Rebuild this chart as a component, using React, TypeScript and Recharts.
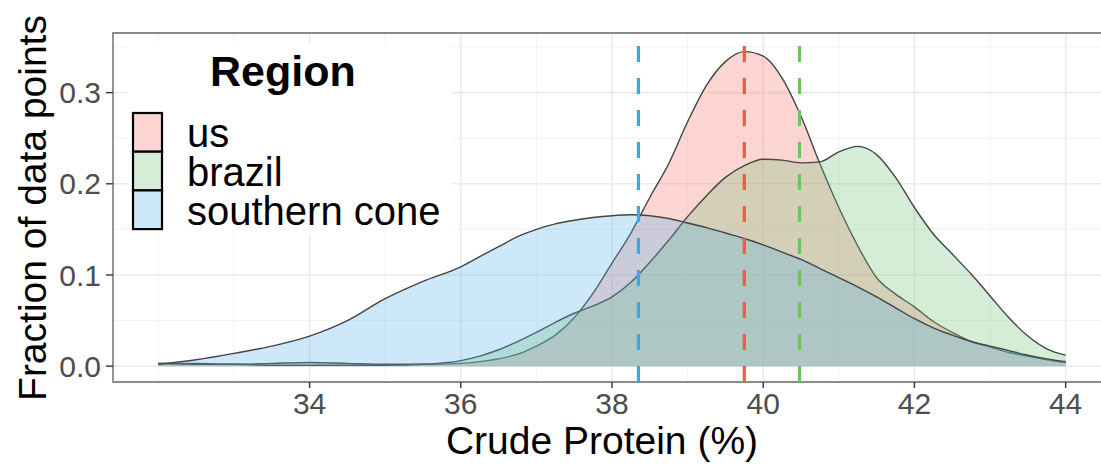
import React from 'react';
import {
  AreaChart,
  Area,
  XAxis,
  YAxis,
  CartesianGrid,
  ReferenceLine,
  ReferenceArea,
  Label,
} from 'recharts';

// ---- data ----
const proteinValues = [
  32, 32.5, 33, 33.5, 34, 34.5, 35, 35.5, 36,
  36.25, 36.5, 36.75, 37, 37.25, 37.5, 37.75, 38,
  38.25, 38.5, 38.75, 39, 39.25, 39.5, 39.75, 40,
  40.25, 40.5, 40.75, 41, 41.25, 41.5, 41.75, 42,
  42.25, 42.5, 42.75, 43, 43.25, 43.5, 43.75, 44,
];

const usDensity = [
  0.003, 0.003, 0.002, 0.003, 0.004, 0.003, 0.002, 0.002, 0.003,
  0.005, 0.008, 0.013, 0.022, 0.034, 0.053, 0.08, 0.113,
  0.146, 0.185, 0.222, 0.268, 0.308, 0.334, 0.345, 0.34,
  0.316, 0.274, 0.222, 0.174, 0.132, 0.097, 0.079, 0.065,
  0.049, 0.037, 0.027, 0.021, 0.015, 0.011, 0.007, 0.004,
];

const brazilDensity = [
  0.003, 0.002, 0.002, 0.001, 0.001, 0.001, 0.001, 0.002, 0.006,
  0.011, 0.018, 0.027, 0.037, 0.048, 0.058, 0.066, 0.076,
  0.092, 0.114, 0.138, 0.164, 0.187, 0.207, 0.22, 0.227,
  0.226, 0.223, 0.224, 0.235, 0.241, 0.232, 0.207, 0.174,
  0.145, 0.123, 0.101, 0.077, 0.053, 0.033, 0.019, 0.012,
];

const southernConeDensity = [
  0.002, 0.007, 0.014, 0.022, 0.033, 0.05, 0.074, 0.093, 0.109,
  0.12, 0.131, 0.142, 0.15, 0.156, 0.16, 0.163, 0.165,
  0.166, 0.165, 0.162, 0.157, 0.152, 0.146, 0.14, 0.133,
  0.125, 0.117, 0.107, 0.097, 0.087, 0.076, 0.064, 0.052,
  0.042, 0.034, 0.027, 0.022, 0.017, 0.012, 0.008, 0.005,
];

const regionNames = ['us', 'brazil', 'southern cone'];
const regionKeys = ['us', 'brazil', 'sc'];
const regionFills = ['#F8766D', '#74C476', '#5AB4E8'];
const meanLineColors = ['#F25A40', '#6CC45C', '#3AA8E4'];
const regionMeans = [39.75, 40.48, 38.35];

const xTicks = [34, 36, 38, 40, 42, 44];
const xMinorGrid = [32, 33, 35, 37, 39, 41, 43];
const yTicks = [0, 0.1, 0.2, 0.3];
const yMinorGrid = [0.05, 0.15, 0.25, 0.35];

const xDomain = [31.4, 44.6];
const yDomain = [-0.0174, 0.3654];

const data = proteinValues.map((x, i) => ({
  x,
  us: usDensity[i],
  brazil: brazilDensity[i],
  sc: southernConeDensity[i],
}));

const FONT = '"Liberation Sans", Arial, Helvetica, sans-serif';

const XTitle = () => (
  <text x={602} y={454} textAnchor="middle" fontSize={39} fontFamily={FONT} fill="#000">
    Crude Protein (%)
  </text>
);

const YTitle = () => (
  <text
    x={0}
    y={0}
    transform="translate(46,208) rotate(-90)"
    textAnchor="middle"
    fontSize={39}
    fontFamily={FONT}
    fill="#000"
  >
    Fraction of data points
  </text>
);

const LegendOverlay = () => (
  <svg
    width={1101}
    height={469}
    style={{ position: 'absolute', left: 0, top: 0, pointerEvents: 'none' }}
  >
    <rect x={128} y={44} width={324} height={190} fill="#fff" />
    <text x={210} y={86} fontSize={43} fontWeight="bold" fontFamily={FONT} fill="#000">
      Region
    </text>
    {regionNames.map((name, i) => (
      <g key={name}>
        <rect x={133} y={113 + 38.7 * i} width={29} height={38.7} fill="#fff" />
        <rect
          x={133}
          y={113 + 38.7 * i}
          width={29}
          height={38.7}
          fill={regionFills[i]}
          fillOpacity={0.3}
          stroke="#000"
          strokeWidth={2.2}
        />
        <text x={187} y={147 + 39 * i} fontSize={40} fontFamily={FONT} fill="#000">
          {name}
        </text>
      </g>
    ))}
  </svg>
);

export default function App() {
  return (
    <div
      style={{
        position: 'absolute',
        left: 0,
        top: 0,
        width: 1101,
        height: 469,
        overflow: 'hidden',
        background: '#fff',
      }}
    >
      <AreaChart
        width={1130}
        height={469}
        data={data}
        margin={{ top: 33, right: 19, bottom: 0, left: 0 }}
      >
        <CartesianGrid
          stroke="#f3f3f3"
          strokeWidth={1}
          verticalValues={xMinorGrid}
          horizontalValues={yMinorGrid}
        />
        <CartesianGrid
          stroke="#ebebeb"
          strokeWidth={1.6}
          verticalValues={xTicks}
          horizontalValues={yTicks}
        />
        <XAxis
          dataKey="x"
          type="number"
          domain={xDomain}
          ticks={xTicks}
          allowDataOverflow
          height={87}
          axisLine={false}
          tickLine={{ stroke: '#333', strokeWidth: 1.4 }}
          tickSize={6}
          tickMargin={5}
          tick={{ fill: '#4d4d4d', fontSize: 30, fontFamily: FONT }}
        >
          <Label content={XTitle} />
        </XAxis>
        <YAxis
          type="number"
          domain={yDomain}
          ticks={yTicks}
          allowDataOverflow
          width={113}
          axisLine={false}
          tickLine={{ stroke: '#333', strokeWidth: 1.4 }}
          tickSize={7}
          tickMargin={5}
          tickFormatter={(v: number) => v.toFixed(1)}
          tick={{ fill: '#4d4d4d', fontSize: 30, fontFamily: FONT }}
        >
          <Label content={YTitle} />
        </YAxis>
        {regionKeys.map((key, i) => (
          <Area
            key={key}
            dataKey={key}
            type="monotone"
            baseValue={0}
            fill={regionFills[i]}
            fillOpacity={0.3}
            stroke="#444"
            strokeWidth={1.4}
            isAnimationActive={false}
            dot={false}
            activeDot={false}
          />
        ))}
        {regionKeys.map((key, i) => (
          <ReferenceLine
            key={'m' + key}
            x={regionMeans[i]}
            stroke={meanLineColors[i]}
            strokeWidth={3.2}
            strokeDasharray="16 16"
          />
        ))}
        <ReferenceArea
          x1={xDomain[0]}
          x2={xDomain[1]}
          y1={yDomain[0]}
          y2={yDomain[1]}
          fill="none"
          fillOpacity={0}
          stroke="#8a8a8a"
          strokeWidth={1.8}
        />
      </AreaChart>
      <LegendOverlay />
    </div>
  );
}
